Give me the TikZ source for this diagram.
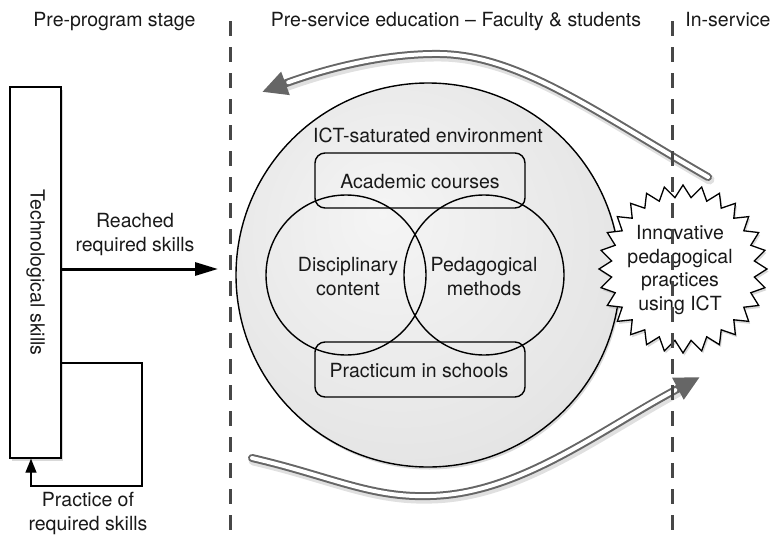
\documentclass[tikz,border=0pt]{standalone}
\usepackage{fontspec}
\setmainfont{TeX Gyre Heros}
\usetikzlibrary{shapes.geometric,arrows.meta,shadows}
\pgfdeclareradialshading{envshade}{\pgfpoint{-6bp}{8bp}}{color(0bp)=(black!4); color(28bp)=(black!10); color(56bp)=(black!20)}
\begin{document}
\begin{tikzpicture}[x=1pt,y=-1pt,
  lbl/.style={font=\fontsize{19.5}{23.5}\selectfont, inner sep=0pt, align=center, text=black!90},
  softshadow/.style={drop shadow={shadow xshift=1.5pt, shadow yshift=-2.5pt, opacity=0.3}},
  roundbox/.style={draw=black, line width=1.4pt, rounded corners=10pt, inner sep=0pt, minimum width=210pt, minimum height=55pt},
  venn/.style={circle, draw=black, line width=1.4pt, inner sep=0pt, minimum size=160pt},
  stagesep/.style={draw=black!72, line width=3pt, dash pattern=on 15pt off 11pt},
  hollowout/.style={draw=black!60, line width=8pt, line cap=round, -{Triangle[length=25pt,width=23pt]}},
  hollowin/.style={draw=white, line width=4pt, line cap=round, shorten >=28pt},
  hollowshade/.style={draw=black, opacity=0.12, line width=10pt, line cap=round, shorten >=20pt, transform canvas={shift={(1.5pt,-2.5pt)}}},
  boldarrow/.style={draw=black, line width=3pt, -{Triangle[length=23pt,width=13pt]}},
  fbarrow/.style={draw=black, line width=1.4pt, -{Triangle[length=14pt,width=11pt]}}
]
\useasboundingbox (0,0) rectangle (773,538);

% headings
\node[lbl, anchor=base] (h1) at (114.5,27) {Pre-program stage};
\node[lbl, anchor=base] (h2) at (456,27) {Pre-service education – Faculty \& students};
\node[lbl, anchor=base] (h3) at (728,27) {In-service};

% environment
\node[circle, draw=black, line width=1.4pt, inner sep=0pt, minimum size=384pt, shading=envshade, softshadow] (env) at (428,275) {};
\node[lbl, anchor=base] (envtext) at (428,142) {ICT-saturated environment};
\node[venn] (disc) at (346,275) {};
\node[venn] (peda) at (484,275) {};
\node[roundbox] (acad) at (420,180.5) {};
\node[roundbox] (prac) at (420,369.5) {};
\node[lbl, anchor=base] (acadtext) at (420,188) {Academic courses};
\node[lbl, anchor=base] (practext) at (419,377) {Practicum in schools};
\node[lbl, anchor=north] (disctext) at (348,257.5) {Disciplinary\\content};
\node[lbl, anchor=north] (pedatext) at (484,257.5) {Pedagogical\\methods};

% starburst
\node[star, star points=28, star point ratio=1.17, minimum size=168pt, inner sep=0pt, draw=black, line width=1.3pt, fill=white, softshadow] (burst) at (683,269) {};
\node[lbl, anchor=north] (bursttext) at (680,225.5) {Innovative\\pedagogical\\practices\\using ICT};

% hollow arrows
\coordinate (upT) at (708,177);
\coordinate (upM) at (440,54);
\coordinate (upH) at (262,92);
\coordinate (loT) at (252,458);
\coordinate (loM) at (430,496);
\coordinate (loH) at (700,377);
\path[hollowshade] (upT) .. controls (600,115) and (520,55) .. (upM) .. controls (370,53) and (300,78) .. (upH);
\path[hollowout] (upT) .. controls (600,115) and (520,55) .. (upM) .. controls (370,53) and (300,78) .. (upH);
\path[hollowin] (upT) .. controls (600,115) and (520,55) .. (upM) .. controls (370,53) and (300,78) .. (upH);
\path[hollowshade] (loT) .. controls (330,476) and (370,498) .. (loM) .. controls (520,494) and (600,430) .. (loH);
\path[hollowout] (loT) .. controls (330,476) and (370,498) .. (loM) .. controls (520,494) and (600,430) .. (loH);
\path[hollowin] (loT) .. controls (330,476) and (370,498) .. (loM) .. controls (520,494) and (600,430) .. (loH);

% stage separators
\coordinate (d1t) at (230,21);
\coordinate (d1b) at (230,538);
\coordinate (d2t) at (672,21);
\coordinate (d2b) at (672,538);
\draw[stagesep] (d1t) -- (d1b);
\draw[stagesep] (d2t) -- (d2b);

% pre-program stage
\node[draw=black, line width=1.4pt, fill=white, inner sep=0pt, minimum width=51pt, minimum height=371pt, softshadow] (tech) at (35.5,272.5) {};
\node[lbl, rotate=-90] (techtext) at (tech.center) {Technological skills};
\coordinate (reachtip) at (218,269);
\draw[boldarrow] (tech.east |- reachtip) -- (reachtip);
\node[lbl, anchor=north] (reachtext) at (135,213.5) {Reached\\required skills};
\coordinate (fbA) at (142,363);
\coordinate (fbB) at (31,486);
\draw[fbarrow] (tech.east |- fbA) -- (fbA) -- (fbA |- fbB) -- (fbB) -- (fbB |- tech.south);
\node[lbl, anchor=north] (fbtext) at (88,492.5) {Practice of\\required skills};
\end{tikzpicture}
\end{document}
